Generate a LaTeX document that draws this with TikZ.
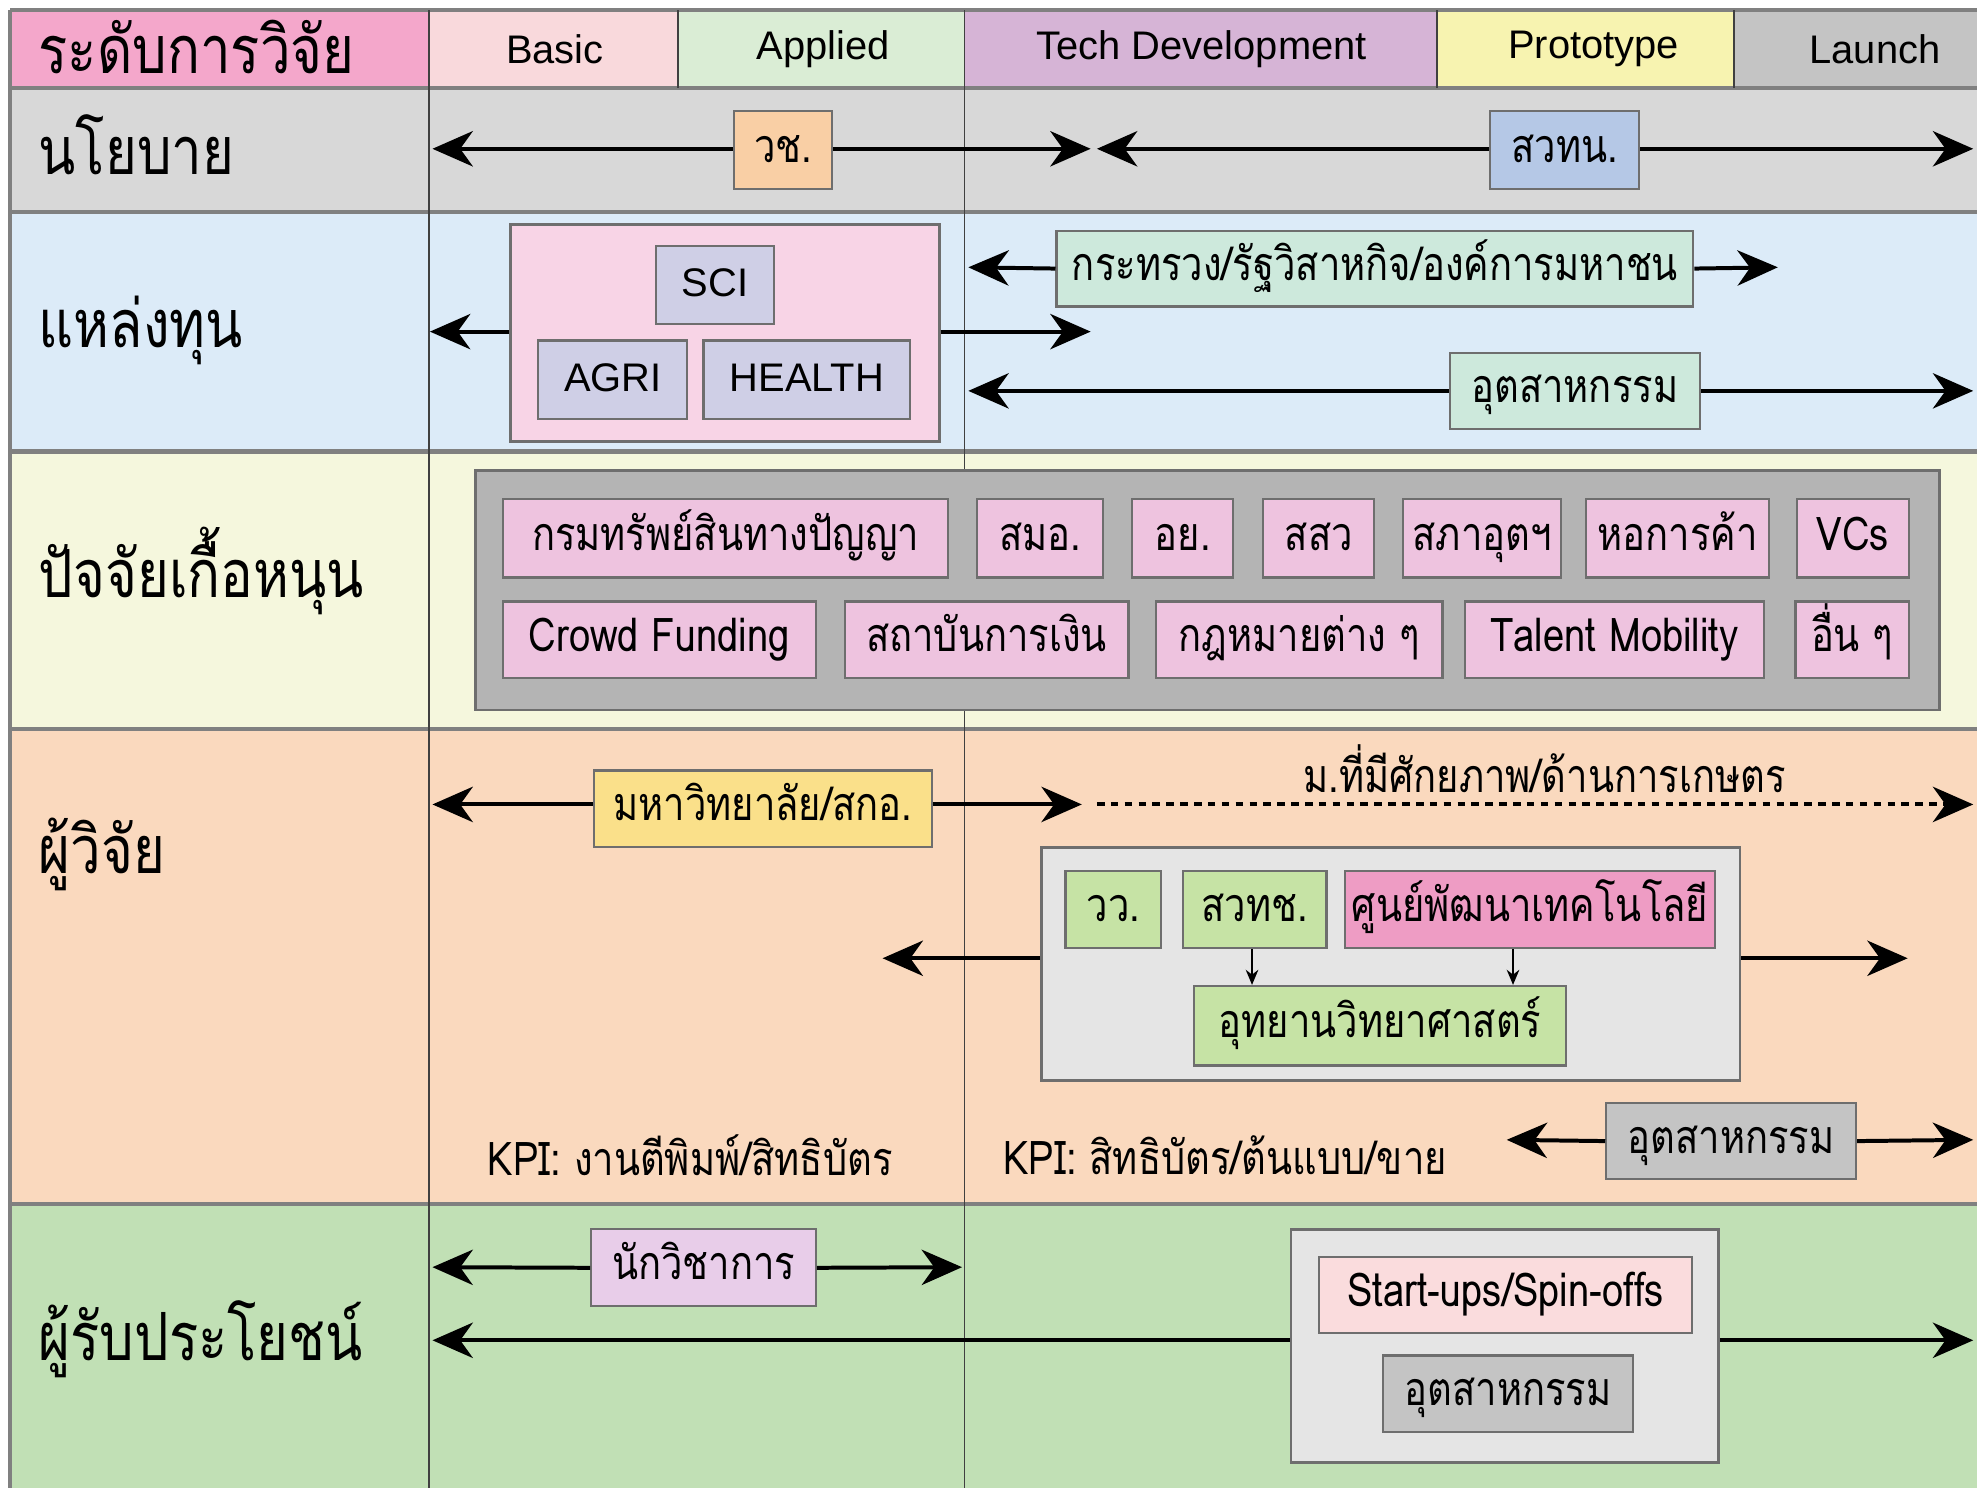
\documentclass[tikz,border=0pt]{standalone}
\usepackage{fontspec}
\setmainfont{Liberation Sans}
\newfontfamily\thaifont[Script=Thai, FakeStretch=0.82]{Loma}
\definecolor{hdrpink}{RGB}{244,167,203}
\definecolor{basicpink}{RGB}{249,217,220}
\definecolor{appgreen}{RGB}{218,237,213}
\definecolor{techpurple}{RGB}{214,180,214}
\definecolor{protoyellow}{RGB}{247,243,176}
\definecolor{launchgray}{RGB}{196,196,196}
\definecolor{polgray}{RGB}{216,216,216}
\definecolor{fundblue}{RGB}{220,235,248}
\definecolor{suppyellow}{RGB}{245,247,221}
\definecolor{respeach}{RGB}{250,217,190}
\definecolor{bengreen}{RGB}{193,224,181}
\definecolor{peachbox}{RGB}{249,207,165}
\definecolor{bluebox}{RGB}{181,200,230}
\definecolor{fundpink}{RGB}{248,212,230}
\definecolor{lavbox}{RGB}{207,207,230}
\definecolor{mintbox}{RGB}{205,233,220}
\definecolor{suppbox}{RGB}{238,195,223}
\definecolor{suppgray}{RGB}{180,180,180}
\definecolor{unibox}{RGB}{250,224,138}
\definecolor{panelgray}{RGB}{229,229,229}
\definecolor{leafbox}{RGB}{198,227,165}
\definecolor{hotbox}{RGB}{238,156,196}
\definecolor{lilacbox}{RGB}{232,205,233}
\definecolor{rosebox}{RGB}{250,220,221}
\definecolor{indbox}{RGB}{196,196,196}
\definecolor{edgegray}{RGB}{110,110,110}
\usetikzlibrary{arrows.meta, positioning, calc}

\begin{document}
\begin{tikzpicture}[y=-1cm,
  rowlbl/.style={anchor=west, inner sep=0pt, font=\thaifont\fontsize{15}{18}\selectfont},
  hdrtxt/.style={inner sep=0pt, font=\fontsize{9}{11}\selectfont},
  box/.style={draw=edgegray, line width=0.5pt, fill=#1, minimum height=0.61cm, inner sep=0pt,
    text height=0.27cm, text depth=0.08cm, font=\thaifont\fontsize{10.5}{12}\selectfont},
  engbox/.style={box=#1, font=\fontsize{9}{11}\selectfont},
  group/.style={draw=edgegray, line width=0.6pt, fill=#1, inner sep=0pt},
  rowline/.style={draw=black!50, line width=1pt},
  colline/.style={draw=black!75, line width=0.4pt},
  link/.style={line width=0.9pt, -{Stealth[length=0.32cm, width=0.28cm, inset=0.1cm]}},
  feed/.style={line width=0.4pt, -{Stealth[length=0.12cm, width=0.1cm]}},
  kpi/.style={anchor=west, inner sep=0pt, font=\thaifont\fontsize{10.5}{12}\selectfont}]
  \useasboundingbox (0,0) rectangle (15.68,11.80);

  % Header row
  \fill[hdrpink] (0.08,0.08) rectangle (3.40,0.70);
  \fill[basicpink] (3.40,0.08) rectangle (5.38,0.70);
  \fill[appgreen] (5.38,0.08) rectangle (7.65,0.70);
  \fill[techpurple] (7.65,0.08) rectangle (11.40,0.70);
  \fill[protoyellow] (11.40,0.08) rectangle (13.75,0.70);
  \fill[launchgray] (13.75,0.08) rectangle (15.68,0.70);

  % Row bands
  \fill[polgray] (0.08,0.70) rectangle (15.68,1.68);
  \fill[fundblue] (0.08,1.68) rectangle (15.68,3.58);
  \fill[suppyellow] (0.08,3.58) rectangle (15.68,5.78);
  \fill[respeach] (0.08,5.78) rectangle (15.68,9.55);
  \fill[bengreen] (0.08,9.55) rectangle (15.68,11.80);

  % Grid lines
  \foreach \y in {0.08,0.70,1.68,3.58,5.78,9.55}
    \draw[rowline] (0.08,\y) -- (15.68,\y);
  \draw[rowline] (0.08,0.08) -- (0.08,11.80);
  \foreach \x in {3.40,7.65}
    \draw[colline] (\x,0.08) -- (\x,11.80);
  \foreach \x in {5.38,11.40,13.75}
    \draw[colline] (\x,0.08) -- (\x,0.70);

  % Header labels
  \node[rowlbl] (hlevel) at (0.30,0.37) {ระดับการวิจัย};
  \node[hdrtxt] (hbasic) at (4.40,0.39) {Basic};
  \node[hdrtxt] (happlied) at (6.53,0.39) {Applied};
  \node[hdrtxt] (htech) at (9.53,0.39) {Tech Development};
  \node[hdrtxt] (hproto) at (12.64,0.39) {Prototype};
  \node[hdrtxt] (hlaunch) at (14.87,0.39) {Launch};

  % Row labels
  \node[rowlbl] (lpolicy) at (0.30,1.15) {นโยบาย};
  \node[rowlbl] (lfund) at (0.30,2.62) {แหล่งทุน};
  \node[rowlbl] (lsupp) at (0.30,4.53) {ปัจจัยเกื้อหนุน};
  \node[rowlbl] (lres) at (0.30,6.78) {ผู้วิจัย};
  \node[rowlbl] (lben) at (0.30,10.62) {ผู้รับประโยชน์};

  % Policy
  \node[box=peachbox, minimum width=0.78cm, minimum height=0.62cm] (nrct) at (6.21,1.19) {วช.};
  \node[box=bluebox, minimum width=1.18cm, minimum height=0.62cm] (sti) at (12.41,1.19) {สวทน.};
  \coordinate (nrctL) at (3.43,1.18);
  \coordinate (nrctR) at (8.65,1.18);
  \coordinate (stiL) at (8.70,1.18);
  \coordinate (stiR) at (15.65,1.18);
  \draw[link] (nrct.west |- nrctL) -- (nrctL);
  \draw[link] (nrct.east |- nrctR) -- (nrctR);
  \draw[link] (sti.west |- stiL) -- (stiL);
  \draw[link] (sti.east |- stiR) -- (stiR);

  % Funding
  \node[group=fundpink, minimum width=3.40cm, minimum height=1.72cm] (agency) at (5.75,2.64) {};
  \node[engbox=lavbox, minimum width=0.94cm, minimum height=0.62cm] (sci) at (5.67,2.26) {SCI};
  \node[engbox=lavbox, minimum width=1.18cm, minimum height=0.62cm] (agri) at (4.86,3.01) {AGRI};
  \node[engbox=lavbox, minimum width=1.64cm, minimum height=0.62cm] (health) at (6.40,3.01) {HEALTH};
  \coordinate (agencyL) at (3.41,2.63);
  \coordinate (agencyR) at (8.65,2.63);
  \draw[link] (agency.west |- agencyL) -- (agencyL);
  \draw[link] (agency.east |- agencyR) -- (agencyR);
  \node[box=mintbox, minimum width=5.05cm, minimum height=0.60cm] (ministry) at (10.905,2.13) {กระทรวง/รัฐวิสาหกิจ/องค์การมหาชน};
  \node[box=mintbox, minimum width=1.98cm, minimum height=0.60cm] (fundind) at (12.49,3.10) {อุตสาหกรรม};
  \coordinate (ministryL) at (7.68,2.12);
  \coordinate (ministryR) at (14.10,2.12);
  \coordinate (fundindL) at (7.68,3.10);
  \coordinate (fundindR) at (15.65,3.10);
  \draw[link] (ministry.west) -- (ministryL);
  \draw[link] (ministry.east) -- (ministryR);
  \draw[link] (fundind.west) -- (fundindL);
  \draw[link] (fundind.east) -- (fundindR);

  % Supporting factors
  \node[group=suppgray, minimum width=11.61cm, minimum height=1.90cm] (supp) at (9.575,4.68) {};
  \node[box=suppbox, minimum width=3.53cm, minimum height=0.62cm] (ipo) at (5.755,4.27) {กรมทรัพย์สินทางปัญญา};
  \node[box=suppbox, minimum width=1.00cm, minimum height=0.62cm] (tisi) at (8.25,4.27) {สมอ.};
  \node[box=suppbox, minimum width=0.80cm, minimum height=0.62cm] (fda) at (9.38,4.27) {อย.};
  \node[box=suppbox, minimum width=0.88cm, minimum height=0.62cm] (sme) at (10.46,4.27) {สสว};
  \node[box=suppbox, minimum width=1.25cm, minimum height=0.62cm] (fti) at (11.755,4.27) {สภาอุตฯ};
  \node[box=suppbox, minimum width=1.45cm, minimum height=0.62cm] (tcc) at (13.305,4.27) {หอการค้า};
  \node[box=suppbox, minimum width=0.89cm, minimum height=0.62cm] (vcs) at (14.695,4.27) {VCs};
  \node[box=suppbox, minimum width=2.48cm] (crowd) at (5.23,5.075) {Crowd Funding};
  \node[box=suppbox, minimum width=2.25cm] (bank) at (7.825,5.075) {สถาบันการเงิน};
  \node[box=suppbox, minimum width=2.27cm] (law) at (10.305,5.075) {กฎหมายต่าง ๆ};
  \node[box=suppbox, minimum width=2.37cm] (talent) at (12.805,5.075) {Talent Mobility};
  \node[box=suppbox, minimum width=0.90cm] (other) at (14.69,5.075) {อื่น ๆ};

  % Researchers
  \node[box=unibox, minimum width=2.68cm] (uni) at (6.05,6.415) {มหาวิทยาลัย/สกอ.};
  \coordinate (uniL) at (3.43,6.38);
  \coordinate (uniR) at (8.58,6.38);
  \draw[link] (uni.west |- uniL) -- (uniL);
  \draw[link] (uni.east |- uniR) -- (uniR);
  \node[kpi, anchor=center] (agriuni) at (12.25,6.10) {ม.ที่มีศักยภาพ/ด้านการเกษตร};
  \coordinate (dashL) at (8.70,6.38);
  \coordinate (dashR) at (15.65,6.38);
  \draw[link, dash pattern=on 0.06cm off 0.05cm] (dashL) -- (dashR);
  \node[group=panelgray, minimum width=5.54cm, minimum height=1.85cm] (labs) at (11.03,7.645) {};
  \node[box=leafbox, minimum width=0.76cm] (tistr) at (8.83,7.215) {วว.};
  \node[box=leafbox, minimum width=1.14cm] (nstda) at (9.95,7.215) {สวทช.};
  \node[box=hotbox, minimum width=2.93cm] (tdc) at (12.135,7.215) {ศูนย์พัฒนาเทคโนโลยี};
  \node[box=leafbox, minimum width=2.95cm, minimum height=0.63cm] (park) at (10.945,8.135) {อุทยานวิทยาศาสตร์};
  \draw[feed] (nstda.south -| 9.93,0) -- (park.north -| 9.93,0);
  \draw[feed] (tdc.south -| 12.00,0) -- (park.north -| 12.00,0);
  \coordinate (labsL) at (7.00,7.60);
  \coordinate (labsR) at (15.13,7.60);
  \draw[link] (labs.west |- labsL) -- (labsL);
  \draw[link] (labs.east |- labsR) -- (labsR);
  \node[kpi] (kpibasic) at (3.86,9.16) {KPI: งานตีพิมพ์/สิทธิบัตร};
  \node[kpi] (kpitech) at (7.95,9.16) {KPI: สิทธิบัตร/ต้นแบบ/ขาย};
  \node[box=indbox, minimum width=1.98cm, minimum height=0.60cm] (resind) at (13.73,9.05) {อุตสาหกรรม};
  \coordinate (resindL) at (11.95,9.04);
  \coordinate (resindR) at (15.65,9.04);
  \draw[link] (resind.west) -- (resindL);
  \draw[link] (resind.east) -- (resindR);

  % Beneficiaries
  \node[box=lilacbox, minimum width=1.78cm] (academic) at (5.58,10.055) {นักวิชาการ};
  \coordinate (academicL) at (3.43,10.05);
  \coordinate (academicR) at (7.63,10.05);
  \draw[link] (academic.west) -- (academicL);
  \draw[link] (academic.east) -- (academicR);
  \node[group=panelgray, minimum width=3.39cm, minimum height=1.85cm] (firms) at (11.935,10.675) {};
  \node[box=rosebox, minimum width=2.96cm, minimum height=0.60cm] (startup) at (11.94,10.27) {Start-ups/Spin-offs};
  \node[box=indbox, minimum width=1.98cm] (benind) at (11.96,11.055) {อุตสาหกรรม};
  \coordinate (firmsL) at (3.43,10.63);
  \coordinate (firmsR) at (15.65,10.63);
  \draw[link] (firms.west |- firmsL) -- (firmsL);
  \draw[link] (firms.east |- firmsR) -- (firmsR);
\end{tikzpicture}
\end{document}
